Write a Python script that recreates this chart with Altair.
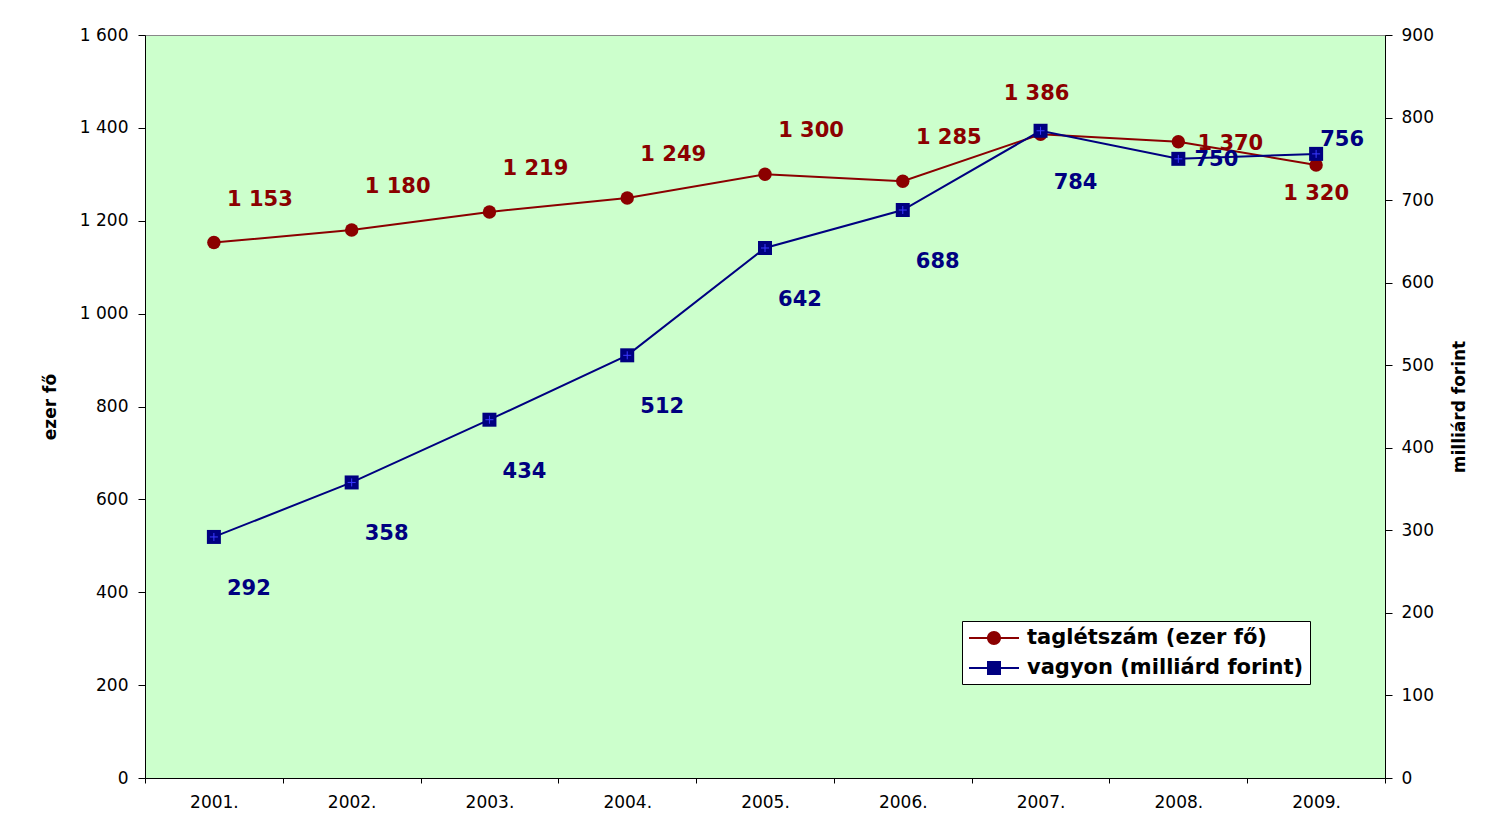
import altair as alt
import pandas as pd

years = ["2001.", "2002.", "2003.", "2004.", "2005.", "2006.", "2007.", "2008.", "2009."]
taglet = [1153, 1180, 1219, 1249, 1300, 1285, 1386, 1370, 1320]
vagyon = [292, 358, 434, 512, 642, 688, 784, 750, 756]
S1 = "taglétszám (ezer fő)"
S2 = "vagyon (milliárd forint)"
left_ticks = list(range(0, 1601, 200))
right_ticks = list(range(0, 901, 100))

RED = "#8B0000"
BLUE = "#000080"
FONT = "DejaVu Sans"


def fmt(v):
    return f"{v:,}".replace(",", " ")


df = pd.DataFrame({
    "year": years + years,
    "series": [S1] * len(years) + [S2] * len(years),
    "value": taglet + vagyon,
})
df["label"] = df["value"].map(fmt)

x_enc = alt.X(
    "year:N",
    scale=alt.Scale(type="band", domain=years, paddingInner=0, paddingOuter=0),
    axis=alt.Axis(title=None, tickBand="extent", labelAngle=0, tickSize=5, labelPadding=11),
)

y_left = alt.Y(
    "value:Q",
    scale=alt.Scale(domain=[0, 1600], nice=False),
    axis=alt.Axis(orient="left", values=left_ticks, title="ezer fő",
                  labelExpr="replace(format(datum.value, ','), ',', ' ')",
                  grid=False, tickSize=7, labelPadding=10, titlePadding=20),
)
y_right = alt.Y(
    "value:Q",
    scale=alt.Scale(domain=[0, 900], nice=False),
    axis=alt.Axis(orient="right", values=right_ticks, title="milliárd forint",
                  titleAngle=270, titleBaseline="top",
                  grid=False, tickSize=7, labelPadding=9, titlePadding=18),
)


def series_layers(series, y_enc, color, shape, size, label_groups, extra=None):
    base = alt.Chart(df).transform_filter(alt.datum.series == series).encode(x=x_enc, y=y_enc)
    line = base.mark_line(strokeWidth=2, color=color)
    pts = base.mark_point(shape=shape, filled=True, size=size, opacity=1, color=color)
    layers = [line, pts]
    if extra is not None:
        layers.append(extra(base))
    for yrs, dx, dy in label_groups:
        layers.append(
            base.transform_filter(alt.FieldOneOfPredicate(field="year", oneOf=yrs))
            .mark_text(dx=dx, dy=dy, font=FONT, fontSize=21, fontWeight="bold", color=color)
            .encode(text="label:N")
        )
    return alt.layer(*layers)


tag_layer = series_layers(
    S1, y_left, RED, "circle", 180,
    [
        (years[:6], 46, -43),
        (["2007."], -4, -40),
        (["2008."], 52, 2),
        (["2009."], 0, 29),
    ],
)


def crosses(base):
    return base.mark_point(shape="M-0.8,0H0.8M0,-0.8V0.8", filled=False, color="#3a3aff",
                           strokeWidth=1, size=100, opacity=1)


vag_layer = series_layers(
    S2, y_right, BLUE, "square", 196,
    [
        (years[:7], 35, 52),
        (["2008."], 38, 1),
        (["2009."], 26, -14),
    ],
    extra=crosses,
)

p_circle = "M-1,-0.1H4V0.1H-1Z M0.8,0A0.7,0.7 0 1,1 2.2,0A0.7,0.7 0 1,1 0.8,0Z"
p_square = "M-1,-0.1H4V0.1H-1Z M0.8,-0.7H2.2V0.7H0.8Z"

leg = alt.Legend(
    title=None, orient="none", legendX=817, legendY=586,
    padding=6, strokeColor="black", fillColor="white",
    labelFont=FONT, labelFontSize=21, labelFontWeight="bold", labelColor="black",
    labelLimit=500, symbolSize=400, rowPadding=9, labelOffset=37,
)

legend_layer = alt.Chart(df).transform_filter("false").mark_point(
    filled=True, opacity=1, strokeWidth=0
).encode(
    fill=alt.Fill("series:N", scale=alt.Scale(domain=[S1, S2], range=[RED, BLUE]), legend=leg),
    shape=alt.Shape("series:N", scale=alt.Scale(domain=[S1, S2], range=[p_circle, p_square]), legend=leg),
)

chart = (
    alt.layer(tag_layer, vag_layer, legend_layer)
    .resolve_scale(y="independent")
    .properties(
        width=1240, height=743,
        autosize=alt.AutoSizeParams(type="none"),
        padding={"left": 137, "top": 27, "right": 117, "bottom": 43},
        background="white",
        view=alt.ViewBackground(fill="#CCFFCC", stroke="#888888", strokeWidth=1),
    )
    .configure_axis(
        labelFont=FONT, labelFontSize=17, labelColor="black",
        titleFont=FONT, titleFontSize=17, titleFontWeight="bold", titleColor="black",
        domainColor="black", tickColor="black", grid=False,
    )
)

chart.save("out.html", embed_options={"renderer": "svg", "actions": False})
